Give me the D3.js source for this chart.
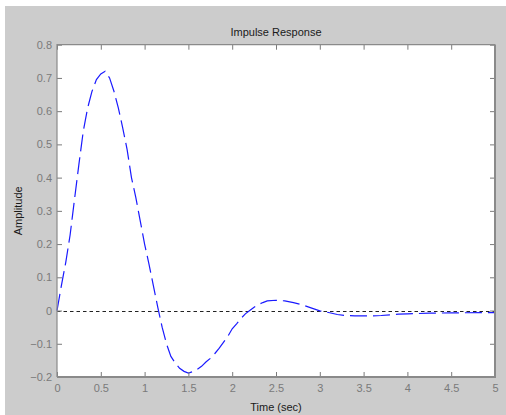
<!DOCTYPE html>
<html>
<head>
<meta charset="utf-8">
<script src="https://cdn.jsdelivr.net/npm/d3@7.9.0/dist/d3.min.js"></script>
<style>
  html, body { margin: 0; padding: 0; background: #fff; }
  svg { display: block; font-family: "Liberation Sans", Arial, Helvetica, sans-serif; }
</style>
</head>
<body>
<svg id="chart" width="506" height="415"></svg>
<script>
// impulse response samples (time in sec, amplitude)
const time = [0, 0.05, 0.1, 0.15, 0.2, 0.25, 0.3, 0.35, 0.4, 0.45, 0.5, 0.55, 0.6, 0.65, 0.7, 0.75,
  0.8, 0.85, 0.9, 0.95, 1.0, 1.05, 1.1, 1.15, 1.2, 1.25, 1.3, 1.35, 1.4, 1.45, 1.5, 1.55, 1.6,
  1.65, 1.7, 1.75, 1.8, 1.85, 1.9, 1.95, 2.0, 2.05, 2.1, 2.15, 2.2, 2.25, 2.3, 2.35, 2.4, 2.5,
  2.6, 2.7, 2.8, 2.9, 3.0, 3.1, 3.2, 3.3, 3.4, 3.5, 3.6, 3.7, 3.8, 3.9, 4.0, 4.25, 4.5, 5.0];
const amplitude = [0, 0.075, 0.145, 0.228, 0.335, 0.44, 0.54, 0.61, 0.66, 0.695, 0.712, 0.72, 0.70,
  0.66, 0.61, 0.55, 0.485, 0.40, 0.34, 0.27, 0.20, 0.14, 0.075, 0.01, -0.05, -0.10, -0.138, -0.158,
  -0.174, -0.183, -0.188, -0.184, -0.177, -0.168, -0.155, -0.144, -0.13, -0.114, -0.096, -0.078,
  -0.055, -0.04, -0.024, -0.01, 0.0, 0.01, 0.018, 0.024, 0.029, 0.031, 0.029, 0.024, 0.017,
  0.008, -0.001, -0.006, -0.012, -0.015, -0.016, -0.016, -0.016, -0.015, -0.013, -0.011, -0.01,
  -0.008, -0.007, -0.006];

const xTicks = [0, 0.5, 1, 1.5, 2, 2.5, 3, 3.5, 4, 4.5, 5];
const yTicks = [-0.2, -0.1, 0, 0.1, 0.2, 0.3, 0.4, 0.5, 0.6, 0.7, 0.8];

const svg = d3.select('#chart');
const W = 506, H = 415;
const plot = { left: 57, right: 495, top: 44.7, bottom: 377 };

// grey figure background
svg.append('rect')
  .attr('x', 5).attr('y', 6)
  .attr('width', W - 5).attr('height', H - 6)
  .attr('fill', '#cccccc');

const x = d3.scaleLinear().domain([0, 5]).range([plot.left, plot.right]);
const y = d3.scaleLinear().domain([-0.2, 0.8]).range([plot.bottom, plot.top]);

// white axes area
svg.append('rect')
  .attr('x', plot.left).attr('y', plot.top)
  .attr('width', plot.right - plot.left).attr('height', plot.bottom - plot.top)
  .attr('fill', '#ffffff');

// zero reference line
svg.append('line')
  .attr('x1', x(0)).attr('x2', x(5))
  .attr('y1', Math.round(y(0)) + 0.5).attr('y2', Math.round(y(0)) + 0.5)
  .attr('stroke', '#222')
  .attr('stroke-width', 1)
  .attr('stroke-dasharray', '3.5,3');

// response curve
const points = time.map((t, i) => [t, amplitude[i]]);
const line = d3.line().x(d => x(d[0])).y(d => y(d[1]));
svg.append('path')
  .datum(points)
  .attr('d', line)
  .attr('fill', 'none')
  .attr('stroke', '#1a1aff')
  .attr('stroke-width', 1.2)
  .attr('stroke-dasharray', '17,6');

// axes: bottom/left with labels, top/right ticks only (box on)
const tickLen = 5;
const fmt = d => d3.format('')(+d.toFixed(2));

const gx = svg.append('g')
  .attr('transform', `translate(0,${plot.bottom})`)
  .call(d3.axisBottom(x).tickValues(xTicks).tickSize(-tickLen).tickPadding(7).tickFormat(fmt));
const gxTop = svg.append('g')
  .attr('transform', `translate(0,${plot.top})`)
  .call(d3.axisTop(x).tickValues(xTicks).tickSize(-tickLen).tickFormat(''));
const gy = svg.append('g')
  .attr('transform', `translate(${plot.left},0)`)
  .call(d3.axisLeft(y).tickValues(yTicks).tickSize(-tickLen).tickPadding(5).tickFormat(fmt));
const gyRight = svg.append('g')
  .attr('transform', `translate(${plot.right},0)`)
  .call(d3.axisRight(y).tickValues(yTicks).tickSize(-tickLen).tickFormat(''));

[gx, gxTop, gy, gyRight].forEach(g => {
  g.select('.domain').remove();
  g.selectAll('.tick line').attr('stroke', '#7a7a7a');
  g.selectAll('.tick text')
    .attr('fill', '#7a7a7a')
    .style('font-size', '11px')
    .style('font-family', '"Liberation Sans", Arial, sans-serif');
});

// axes frame, heavier on bottom and right
svg.append('path')
  .attr('d', `M${plot.left},${plot.bottom}V${plot.top}H${plot.right}`)
  .attr('fill', 'none')
  .attr('stroke', '#8a8a8a')
  .attr('stroke-width', 1.2);
svg.append('path')
  .attr('d', `M${plot.left},${plot.bottom}H${plot.right}V${plot.top}`)
  .attr('fill', 'none')
  .attr('stroke', '#8a8a8a')
  .attr('stroke-width', 2);

// title and axis labels
svg.append('text')
  .attr('x', (plot.left + plot.right) / 2)
  .attr('y', 36)
  .attr('text-anchor', 'middle')
  .attr('fill', '#1a1a1a')
  .style('font-size', '11px')
  .text('Impulse Response');

svg.append('text')
  .attr('x', (plot.left + plot.right) / 2)
  .attr('y', 411)
  .attr('text-anchor', 'middle')
  .attr('fill', '#1a1a1a')
  .style('font-size', '11px')
  .text('Time (sec)');

svg.append('text')
  .attr('transform', `translate(22,${(plot.top + plot.bottom) / 2}) rotate(-90)`)
  .attr('text-anchor', 'middle')
  .attr('fill', '#1a1a1a')
  .style('font-size', '11px')
  .text('Amplitude');
</script>
</body>
</html>
